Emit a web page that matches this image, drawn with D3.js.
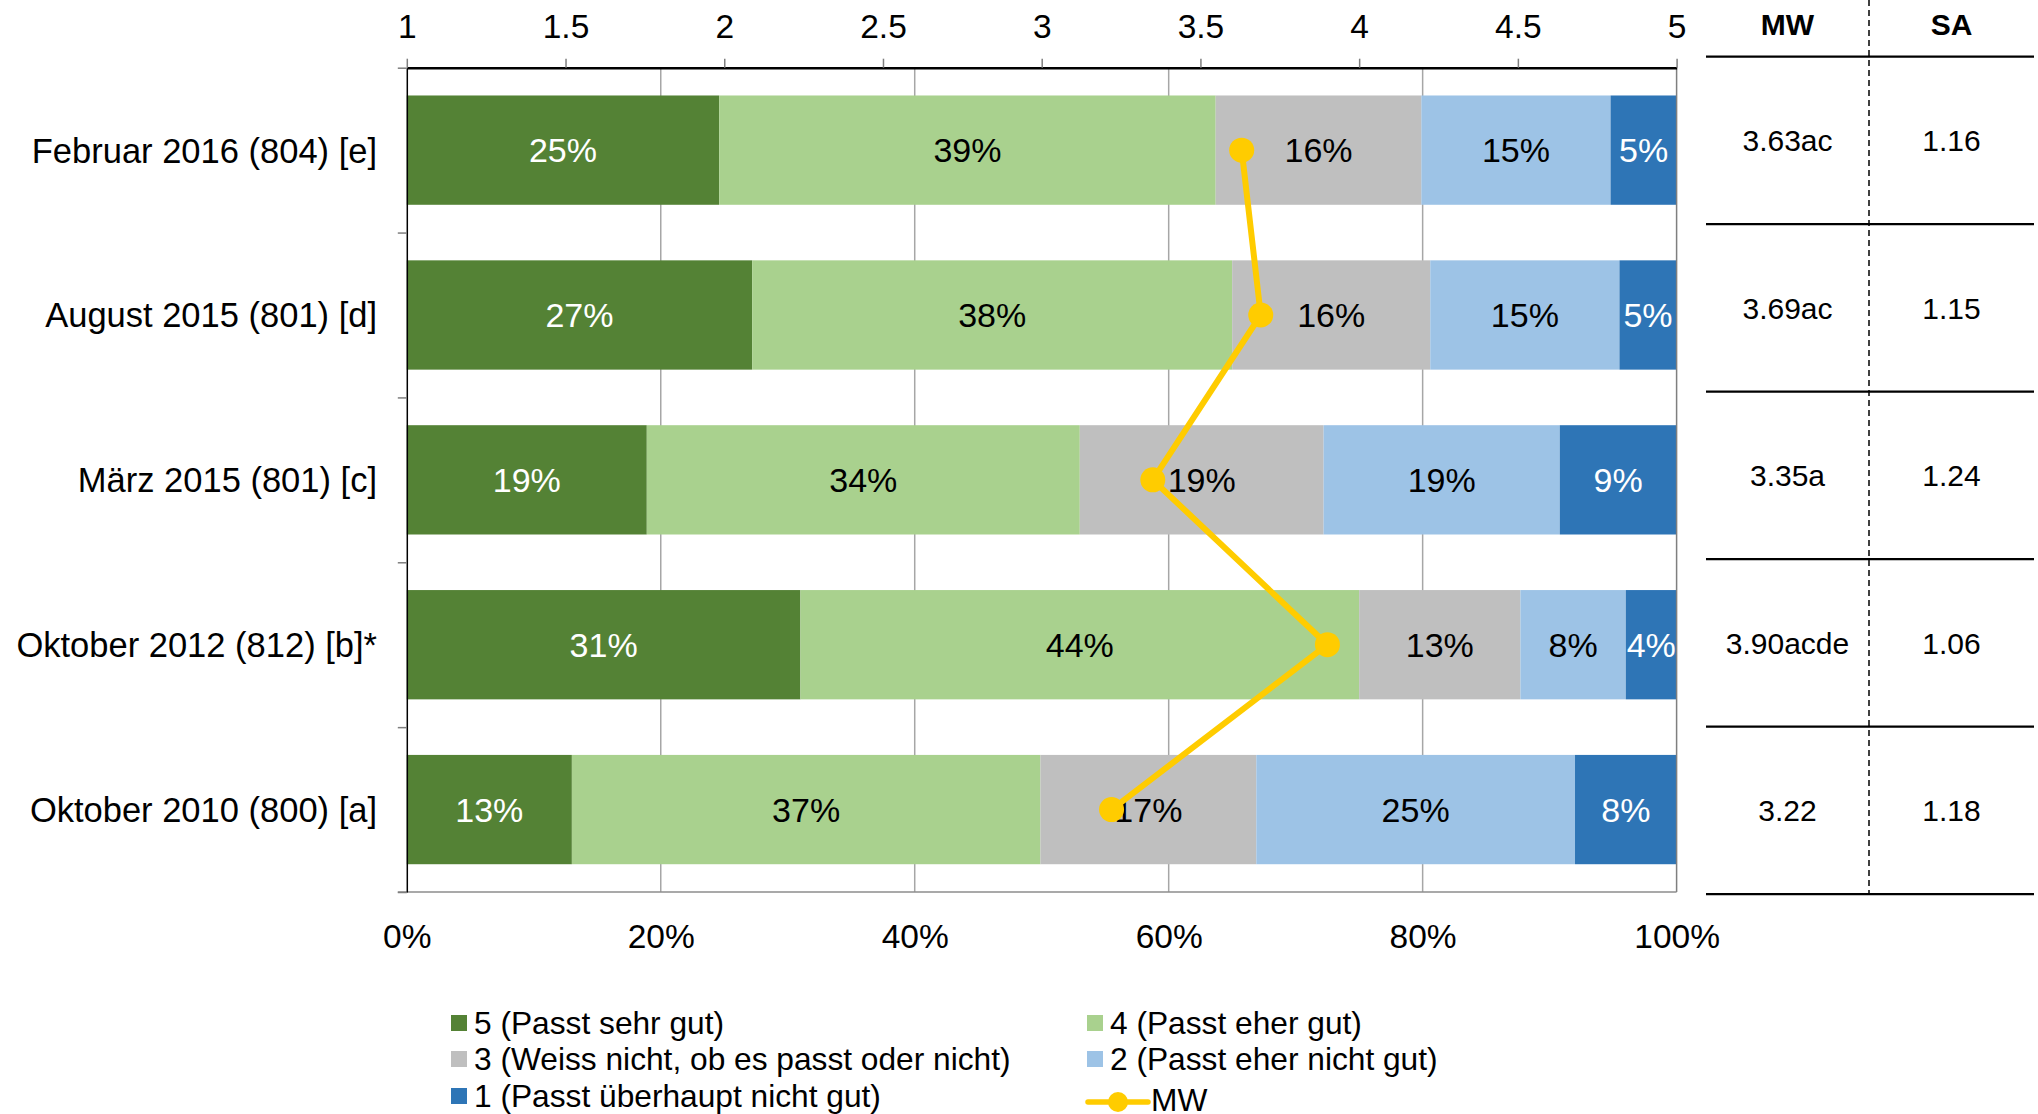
<!DOCTYPE html>
<html>
<head>
<meta charset="utf-8">
<script src="https://cdn.jsdelivr.net/npm/d3@7"></script>
<style>
  html, body { margin: 0; padding: 0; background: #fff; }
  svg { display: block; font-family: "Liberation Sans", Arial, sans-serif; }
</style>
</head>
<body>
<svg id="chart" width="2038" height="1114"></svg>
<script>
// ---------- DATA ----------
const categories = ["Februar 2016 (804) [e]", "August 2015 (801) [d]", "März 2015 (801) [c]", "Oktober 2012 (812) [b]*", "Oktober 2010 (800) [a]"];
const levels = ["5 (Passt sehr gut)", "4 (Passt eher gut)", "3 (Weiss nicht, ob es passt oder nicht)", "2 (Passt eher nicht gut)", "1 (Passt überhaupt nicht gut)"];
const levelColors = ["#548235", "#A9D18E", "#BFBFBF", "#9DC3E6", "#2E75B6"];
const levelTextColors = ["#ffffff", "#000000", "#000000", "#000000", "#ffffff"];

// shares in percent per answer level
const share5 = [24.6, 27.2, 18.9, 31.0, 13.0];
const share4 = [39.1, 37.8, 34.1, 44.0, 36.9];
const share3 = [16.2, 15.6, 19.2, 12.7, 17.0];
const share2 = [14.9, 14.9, 18.6, 8.3, 25.1];
const share1 = [5.2, 4.5, 9.2, 4.0, 8.0];
// printed labels
const label5 = ["25%", "27%", "19%", "31%", "13%"];
const label4 = ["39%", "38%", "34%", "44%", "37%"];
const label3 = ["16%", "16%", "19%", "13%", "17%"];
const label2 = ["15%", "15%", "19%", "8%", "25%"];
const label1 = ["5%", "5%", "9%", "4%", "8%"];

const mwValues = [3.63, 3.69, 3.35, 3.90, 3.22];
const mwLabels = ["3.63ac", "3.69ac", "3.35a", "3.90acde", "3.22"];
const saLabels = ["1.16", "1.15", "1.24", "1.06", "1.18"];

const topTicks = [1, 1.5, 2, 2.5, 3, 3.5, 4, 4.5, 5];
const bottomTicks = [0, 20, 40, 60, 80, 100];
const gridTicks = [20, 40, 60, 80];

// ---------- LAYOUT ----------
const svg = d3.select("#chart");
const plotL = 406.8, plotR = 1676.6, plotT = 67.7, plotB = 892;
const xPct = d3.scaleLinear().domain([0, 100]).range([plotL, plotR]);
const xMw = d3.scaleLinear().domain([1, 5]).range([plotL, plotR]);
const y = d3.scaleBand().domain(categories).range([plotT, plotB]).paddingInner(0.337).paddingOuter(0.1685);
const yBound = d3.scaleLinear().domain([0, categories.length]).range([plotT, plotB]);

const shares = [share5, share4, share3, share2, share1];
const labels = [label5, label4, label3, label2, label1];

// gridlines
svg.append("g").selectAll("line").data(gridTicks).join("line")
  .attr("x1", d => xPct(d)).attr("x2", d => xPct(d))
  .attr("y1", plotT).attr("y2", plotB)
  .attr("stroke", "#A6A6A6").attr("stroke-width", 1.5);

// bars
const segs = [];
categories.forEach((c, i) => {
  let cum = 0;
  shares.forEach((s, k) => {
    segs.push({ cat: c, k: k, x0: cum, x1: cum + s[i], label: labels[k][i] });
    cum += s[i];
  });
});
svg.append("g").selectAll("rect").data(segs).join("rect")
  .attr("x", d => xPct(d.x0))
  .attr("width", d => xPct(d.x1) - xPct(d.x0))
  .attr("y", d => y(d.cat))
  .attr("height", y.bandwidth())
  .attr("fill", d => levelColors[d.k]);

// right border & bottom line
svg.append("line").attr("x1", plotR).attr("x2", plotR).attr("y1", plotT).attr("y2", plotB)
  .attr("stroke", "#7F7F7F").attr("stroke-width", 1.5);
svg.append("line").attr("x1", plotL - 9).attr("x2", plotR).attr("y1", plotB).attr("y2", plotB)
  .attr("stroke", "#8C8C8C").attr("stroke-width", 1.5);

// segment labels
svg.append("g").selectAll("text").data(segs).join("text")
  .attr("x", d => (xPct(d.x0) + xPct(d.x1)) / 2)
  .attr("y", d => y(d.cat) + y.bandwidth() / 2)
  .attr("dy", "0.36em")
  .attr("text-anchor", "middle")
  .attr("font-size", 34)
  .attr("fill", d => levelTextColors[d.k])
  .text(d => d.label);

// left axis (boundary ticks)
const leftAxis = d3.axisLeft(yBound).tickValues(d3.range(categories.length + 1)).tickSize(9).tickSizeOuter(0).tickFormat("");
const gl = svg.append("g").attr("transform", `translate(${plotL},0)`).call(leftAxis);
gl.select(".domain").attr("stroke", "#000").attr("stroke-width", 1.5);
gl.selectAll(".tick line").attr("stroke", "#7F7F7F").attr("stroke-width", 1.5);

// category labels
svg.append("g").selectAll("text").data(categories).join("text")
  .attr("x", 377)
  .attr("y", d => y(d) + y.bandwidth() / 2)
  .attr("dy", "0.36em")
  .attr("text-anchor", "end")
  .attr("font-size", 34.5)
  .attr("fill", "#000")
  .text(d => d);

// top axis (MW scale)
const topAxis = d3.axisTop(xMw).tickValues(topTicks).tickSize(9).tickSizeOuter(0).tickPadding(21).tickFormat(d => String(d));
const gt = svg.append("g").attr("transform", `translate(0,${plotT})`).call(topAxis);
gt.select(".domain").attr("stroke", "#000").attr("stroke-width", 2.5);
gt.selectAll(".tick line").attr("stroke", "#7F7F7F").attr("stroke-width", 1.5);
gt.selectAll(".tick text").attr("font-size", 33.5).attr("fill", "#000").attr("font-family", "Liberation Sans, Arial, sans-serif");

// bottom axis (percent)
const bottomAxis = d3.axisBottom(xPct).tickValues(bottomTicks).tickSize(0).tickPadding(32).tickFormat(d => d + "%");
const gb = svg.append("g").attr("transform", `translate(0,${plotB})`).call(bottomAxis);
gb.select(".domain").remove();
gb.selectAll(".tick text").attr("font-size", 33.5).attr("fill", "#000").attr("font-family", "Liberation Sans, Arial, sans-serif");

// MW line + dots
const mwPts = categories.map((c, i) => [xMw(mwValues[i]), y(c) + y.bandwidth() / 2]);
svg.append("path").datum(mwPts)
  .attr("d", d3.line())
  .attr("fill", "none").attr("stroke", "#FFCC00").attr("stroke-width", 6).attr("stroke-linejoin", "round");
svg.append("g").selectAll("circle").data(mwPts).join("circle")
  .attr("cx", d => d[0]).attr("cy", d => d[1]).attr("r", 12.5)
  .attr("fill", "#FFCC00");

// ---------- TABLE ----------
const tblL = 1706, tblR = 2034, tblMid = 1869;
const tY = d3.scaleBand().domain(categories).range([56.7, 894.2]);
const lineYs = [56.7].concat(categories.map(c => tY(c) + tY.bandwidth()));
svg.append("g").selectAll("line").data(lineYs).join("line")
  .attr("x1", tblL).attr("x2", tblR).attr("y1", d => d).attr("y2", d => d)
  .attr("stroke", "#000").attr("stroke-width", 2.2);
svg.append("line").attr("x1", tblMid).attr("x2", tblMid).attr("y1", 0).attr("y2", 894.2)
  .attr("stroke", "#000").attr("stroke-width", 1.5).attr("stroke-dasharray", "6,4");
const colMW = (tblL + tblMid) / 2, colSA = (tblMid + tblR) / 2;
svg.append("text").attr("x", colMW).attr("y", 24).attr("dy", "0.36em").attr("text-anchor", "middle")
  .attr("font-size", 30).attr("font-weight", "bold").text("MW");
svg.append("text").attr("x", colSA).attr("y", 24).attr("dy", "0.36em").attr("text-anchor", "middle")
  .attr("font-size", 30).attr("font-weight", "bold").text("SA");
svg.append("g").selectAll("text").data(categories).join("text")
  .attr("x", colMW).attr("y", d => tY(d) + tY.bandwidth() / 2).attr("dy", "0.36em")
  .attr("text-anchor", "middle").attr("font-size", 30)
  .text((d, i) => mwLabels[i]);
svg.append("g").selectAll("text").data(categories).join("text")
  .attr("x", colSA).attr("y", d => tY(d) + tY.bandwidth() / 2).attr("dy", "0.36em")
  .attr("text-anchor", "middle").attr("font-size", 30)
  .text((d, i) => saLabels[i]);

// ---------- LEGEND ----------
const legPos = [[451, 1023], [1087, 1023], [451, 1059], [1087, 1059], [451, 1096]];
const leg = svg.append("g");
levels.forEach((l, k) => {
  const [lx, ly] = legPos[k];
  leg.append("rect").attr("x", lx).attr("y", ly - 8).attr("width", 16).attr("height", 16).attr("fill", levelColors[k]);
  leg.append("text").attr("x", lx + 23).attr("y", ly).attr("dy", "0.36em").attr("font-size", 31.7).text(l);
});
leg.append("line").attr("x1", 1088).attr("x2", 1148).attr("y1", 1102).attr("y2", 1102)
  .attr("stroke", "#FFCC00").attr("stroke-width", 5.5).attr("stroke-linecap", "round");
leg.append("circle").attr("cx", 1118).attr("cy", 1102).attr("r", 10).attr("fill", "#FFCC00");
leg.append("text").attr("x", 1151).attr("y", 1100).attr("dy", "0.36em").attr("font-size", 31.7).text("MW");
</script>
</body>
</html>
